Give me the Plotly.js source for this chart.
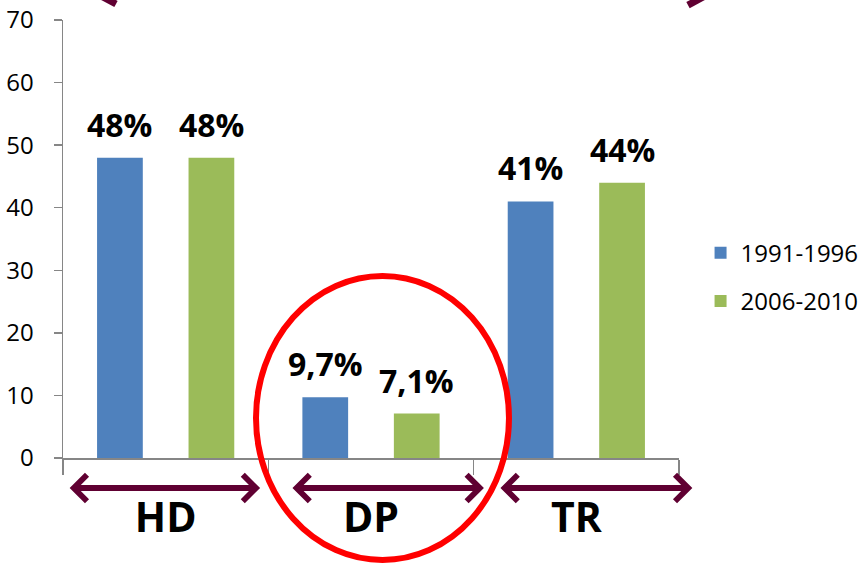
<!DOCTYPE html>
<html>
<head>
<meta charset="utf-8">
<script src="https://cdn.plot.ly/plotly-3.0.1.min.js"></script>
<style>html,body{margin:0;padding:0;background:#fff;}#chart{width:861px;height:565px;}</style>
</head>
<body>
<div id="chart"></div>
<script>
// ---- data ----
const categories = ["HD", "DP", "TR"];
const seriesNames = ["1991-1996", "2006-2010"];
const values1991 = [48, 9.7, 41];
const values2006 = [48, 7.1, 44];
const labels1991 = ["48%", "9,7%", "41%"];
const labels2006 = ["48%", "7,1%", "44%"];
const yTicks = [0, 10, 20, 30, 40, 50, 60, 70];

// ---- style ----
const colors = ["#4F81BD", "#9BBB59"];
const maroon = "#600032";
const font = "'Open Sans', 'Noto Sans', sans-serif";
const W = 861, H = 565;
const margin = {l: 63, r: 182, t: 20, b: 107, autoexpand: false};
const bargap = 0.109, bargroupgap = 0.5;

const plotW = W - margin.l - margin.r;
const catW = plotW / categories.length;
const slot = catW * (1 - bargap) / 2;
const off = slot / 2;

const traces = [
  {type: "bar", name: seriesNames[0], x: categories, y: values1991,
   marker: {color: colors[0]}, legendgroup: "a", hoverinfo: "none"},
  {type: "bar", name: seriesNames[1], x: categories, y: values2006,
   marker: {color: colors[1]}, legendgroup: "b", hoverinfo: "none"}
];

const annotations = [];
categories.forEach((c, i) => {
  [[values1991, labels1991, -off], [values2006, labels2006, off]].forEach(([vals, labs, sh]) => {
    annotations.push({
      xref: "x", yref: "y", x: c, y: vals[i], xshift: sh, yshift: 10,
      yanchor: "bottom", xanchor: "center", showarrow: false, text: labs[i],
      font: {family: font, size: 32, color: "#000", weight: 700}
    });
  });
});

// double-headed arrows under each category (decoration, in category units)
const arrowStart = [-0.47, 0.615, 1.628];
const arrowEnd = [0.46, 1.55, 2.565];
const arrowY = -0.0685;
categories.forEach((c, i) => {
  annotations.push({
    xref: "x", yref: "paper", axref: "x", ayref: "paper",
    x: arrowEnd[i], y: arrowY, ax: arrowStart[i], ay: arrowY,
    text: "", showarrow: true, arrowside: "end+start",
    arrowhead: 4, startarrowhead: 4, arrowsize: 0.85, startarrowsize: 0.85,
    arrowwidth: 6, arrowcolor: maroon, standoff: 0, startstandoff: 0, borderpad: 0
  });
});

const shapes = [
  {type: "circle", xref: "paper", yref: "paper", x0: 0.3133, x1: 0.724, y0: -0.233, y1: 0.4155,
   line: {color: "#FF0000", width: 6}},
  {type: "line", xref: "paper", yref: "paper", x0: 0.055, y0: 1.060, x1: 0.086, y1: 1.0365,
   line: {color: maroon, width: 7}},
  {type: "line", xref: "paper", yref: "paper", x0: 1.0146, y0: 1.034, x1: 1.045, y1: 1.057,
   line: {color: maroon, width: 7}}
];

const layout = {
  width: W, height: H, margin: margin,
  paper_bgcolor: "#fff", plot_bgcolor: "#fff",
  barmode: "group", bargap: bargap, bargroupgap: bargroupgap,
  showlegend: true,
  legend: {x: 1.035, xanchor: "left", y: 0.413, yanchor: "middle",
           font: {family: font, size: 24, color: "#000"},
           traceorder: "grouped", tracegroupgap: 14, bgcolor: "rgba(0,0,0,0)"},
  xaxis: {type: "category", range: [-0.5, 2.5], showgrid: false, zeroline: false,
          showline: true, linecolor: "#868686", linewidth: 1.5,
          ticks: "outside", tickson: "boundaries", ticklen: 15, tickcolor: "#868686", tickwidth: 1.5,
          tickfont: {family: font, size: 41, color: "#000", weight: 700},
          ticklabelstandoff: 23, fixedrange: true},
  yaxis: {range: [0, 70], tickvals: yTicks, showgrid: false, zeroline: false,
          showline: true, linecolor: "#868686", linewidth: 1.5,
          ticks: "outside", ticklen: 8, tickcolor: "#868686", tickwidth: 1.5,
          tickfont: {family: font, size: 24, color: "#000"},
          ticklabelstandoff: 15, fixedrange: true},
  annotations: annotations,
  shapes: shapes
};

Plotly.newPlot("chart", traces, layout, {displayModeBar: false, staticPlot: true});
</script>
</body>
</html>
